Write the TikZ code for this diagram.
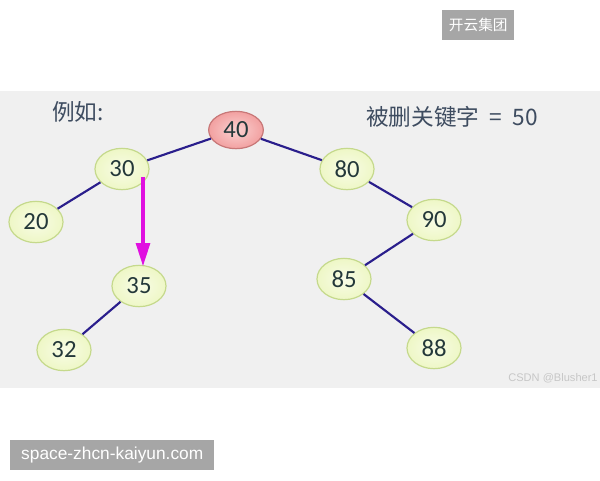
\documentclass[tikz,border=0pt]{standalone}
\usepackage{fontspec}
\setmainfont{Carlito}
\newfontfamily\cjk{Noto Sans CJK SC}
\newfontfamily\lib{Liberation Sans}
\usetikzlibrary{arrows.meta,shapes.geometric}
\definecolor{panel}{HTML}{F0F0F0}
\definecolor{badge}{HTML}{A6A6A6}
\definecolor{edgec}{HTML}{2A1E8C}
\definecolor{nfill}{HTML}{EEF7C6}
\definecolor{nfillc}{HTML}{F8FCE6}
\definecolor{ndraw}{HTML}{C5D98C}
\definecolor{rfill}{HTML}{F2A0A0}
\definecolor{rfillc}{HTML}{FAD2D2}
\definecolor{rdraw}{HTML}{C87878}
\definecolor{numc}{HTML}{24383A}
\definecolor{titlec}{HTML}{3E4C60}
\definecolor{magc}{HTML}{E010E0}
\tikzset{
  keynode/.style={ellipse, draw=ndraw, line width=0.9pt, inner color=nfillc, outer color=nfill,
    minimum width=40.5pt, minimum height=31pt, inner sep=0pt, text=numc, font=\fontsize{18.5}{18.5}\selectfont},
  rootnode/.style={keynode, draw=rdraw, inner color=rfillc, outer color=rfill, minimum width=41pt, minimum height=28pt},
  link/.style={draw=edgec, line width=1.6pt},
  badgebox/.style={fill=badge, text=white, inner sep=0pt, anchor=north west},
  titletext/.style={text=titlec, font=\cjk\fontsize{17}{17}\selectfont},
}
\begin{document}
\begin{tikzpicture}[x=0.75pt,y=-0.75pt]
\useasboundingbox (0,0) rectangle (600,480);
\fill[white] (0,0) rectangle (600,480);
\fill[panel] (0,91) rectangle (600,388);
% badges
\node[badgebox, minimum width=54pt, minimum height=22.5pt] (b1) at (442,10) {};
\node[text=white, font=\cjk\fontsize{11}{11}\selectfont] (b1t) at (b1.center) {开云集团};
\node[badgebox, minimum width=153pt, minimum height=22.5pt] (b2) at (10,440) {};
\node[text=white, font=\lib\fontsize{13}{13}\selectfont] (b2t) at (b2.center) {space-zhcn-kaiyun.com};
% titles
\node[titletext] (t1) at (78,112) {例如:};
\node[titletext] (t2) at (452,117) {被删关键字\ \ =\ \ 50};
\node[text=black!22, font=\lib\fontsize{8.3}{8.3}\selectfont] (wm) at (553,378) {CSDN @Blusher1};
% nodes
\node[rootnode] (n40) at (236,130) {40};
\node[keynode] (n30) at (122,169) {30};
\node[keynode] (n20) at (36,222) {20};
\node[keynode] (n35) at (139,286) {35};
\node[keynode] (n32) at (64,350) {32};
\node[keynode] (n80) at (347,169) {80};
\node[keynode] (n90) at (434,220) {90};
\node[keynode] (n85) at (344,279) {85};
\node[keynode] (n88) at (434,348) {88};
% edges
\draw[link] (n40) -- (n30);
\draw[link] (n40) -- (n80);
\draw[link] (n30) -- (n20);
\draw[link] (n35) -- (n32);
\draw[link] (n80) -- (n90);
\draw[link] (n90) -- (n85);
\draw[link] (n85) -- (n88);
% arrow
\coordinate (a1) at (143,177);
\coordinate (a2) at (143,267);
\draw[magc, line width=3.5pt, -{Triangle[length=18pt,width=10pt]}] (a1) -- (a2);
\end{tikzpicture}
\end{document}
